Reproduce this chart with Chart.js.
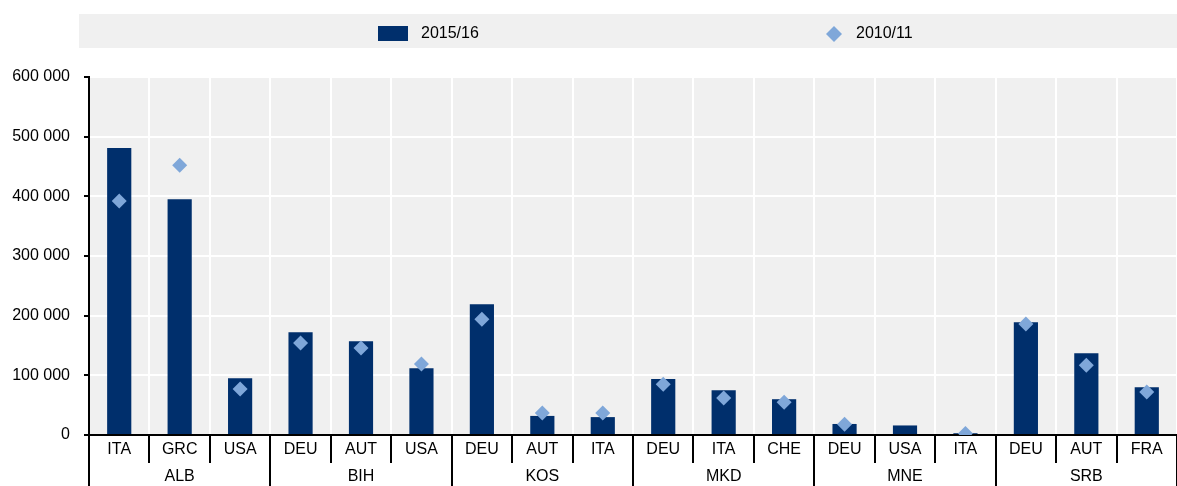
<!DOCTYPE html>
<html>
<head>
<meta charset="utf-8">
<script src="https://cdn.jsdelivr.net/npm/chart.js@4"></script>
<style>
  body { margin: 0; background: #fff; }
  #wrap { width: 1177px; height: 486px; }
</style>
</head>
<body>
<div id="wrap"><canvas id="migChart" width="1177" height="486"></canvas></div>
<script>
// destination countries, grouped by origin
const destinations = ["ITA", "GRC", "USA", "DEU", "AUT", "USA", "DEU", "AUT", "ITA",
                      "DEU", "ITA", "CHE", "DEU", "USA", "ITA", "DEU", "AUT", "FRA"];
const origins = ["ALB", "BIH", "KOS", "MKD", "MNE", "SRB"];
const perGroup = 3;

const values2015 = [481000, 395000, 95000, 172000, 157000, 112000, 219000, 32000, 30000,
                    94000, 75000, 60000, 18500, 16000, 3000, 189000, 137000, 80000];
const values2010 = [392000, 452000, 77000, 154000, 146000, 119000, 194000, 37000, 37000,
                    85000, 62000, 55000, 18000, null, 2500, 186000, 117000, 72000];

const yTicks = [0, 100000, 200000, 300000, 400000, 500000, 600000];

const navy = '#002f6c';
const lightBlue = '#7fa7d9';
const panelGrey = '#f0f0f0';
const fontFamily = '"Liberation Sans", Arial, sans-serif';
const fontSize = 16;

function fmt(v) {
    return String(v).replace(/\B(?=(\d{3})+(?!\d))/g, ' ');
}

const oecdLook = {
    id: 'oecdLook',
    beforeDraw(chart) {
        const ctx = chart.ctx;
        const a = chart.chartArea;
        ctx.save();
        // legend band
        ctx.fillStyle = panelGrey;
        ctx.fillRect(79, 14, chart.width - 79, 34);
        // plot background
        ctx.fillRect(a.left, a.top, a.right - a.left, a.bottom - a.top);
        ctx.restore();
    },
    afterDraw(chart) {
        const ctx = chart.ctx;
        const x = chart.scales.x;
        const a = chart.chartArea;
        const half = (x.getPixelForValue(1) - x.getPixelForValue(0)) / 2;
        ctx.save();

        // legend entries
        ctx.font = fontSize + 'px ' + fontFamily;
        ctx.textBaseline = 'middle';
        ctx.fillStyle = navy;
        ctx.fillRect(378, 26, 30, 15);
        ctx.fillStyle = '#000';
        ctx.fillText('2015/16', 421, 34);
        ctx.fillStyle = lightBlue;
        ctx.beginPath();
        ctx.moveTo(834, 26); ctx.lineTo(842, 34); ctx.lineTo(834, 42); ctx.lineTo(826, 34);
        ctx.closePath();
        ctx.fill();
        ctx.fillStyle = '#000';
        ctx.fillText('2010/11', 856, 34);

        // separators under the axis
        ctx.strokeStyle = '#000';
        ctx.lineWidth = 2;
        for (let i = 0; i <= destinations.length; i++) {
            const px = Math.round(x.getPixelForValue(i) - half);
            const groupEdge = i % perGroup === 0;
            ctx.beginPath();
            ctx.moveTo(px, a.bottom);
            ctx.lineTo(px, groupEdge ? chart.height : a.bottom + 28);
            ctx.stroke();
        }

        // origin labels
        ctx.fillStyle = '#000';
        ctx.textAlign = 'center';
        ctx.textBaseline = 'top';
        origins.forEach(function (o, g) {
            const mid = x.getPixelForValue(g * perGroup + 1);
            ctx.fillText(o, mid, 469);
        });
        ctx.restore();
    }
};

new Chart(document.getElementById('migChart'), {
    data: {
        labels: destinations,
        datasets: [
            {
                type: 'bar',
                label: '2015/16',
                data: values2015,
                backgroundColor: navy,
                barPercentage: 0.4,
                categoryPercentage: 1,
                order: 2
            },
            {
                type: 'line',
                label: '2010/11',
                data: values2010,
                showLine: false,
                pointStyle: 'rectRot',
                pointRadius: 7.5,
                pointHoverRadius: 7.5,
                pointBackgroundColor: lightBlue,
                pointBorderWidth: 0,
                order: 1
            }
        ]
    },
    options: {
        responsive: false,
        animation: false,
        layout: { autoPadding: false, padding: { top: 77, right: 0, bottom: 0, left: 0 } },
        scales: {
            x: {
                grid: { color: '#ffffff', lineWidth: 2, offset: true, drawTicks: false },
                border: { color: '#000', width: 2 },
                ticks: { color: '#000', padding: 5, font: { family: fontFamily, size: fontSize }, maxRotation: 0, autoSkip: false },
                afterFit(scale) {
                    scale.height = 51;
                    scale.paddingLeft = 0;
                    scale.paddingRight = 0;
                }
            },
            y: {
                min: 0,
                max: 600000,
                afterBuildTicks(scale) { scale.ticks = yTicks.map(v => ({ value: v })); },
                grid: { color: '#ffffff', lineWidth: 2, tickColor: '#000', tickLength: 5, tickWidth: 2 },
                border: { color: '#000', width: 2 },
                ticks: {
                    color: '#000',
                    padding: 14,
                    font: { family: fontFamily, size: fontSize },
                    callback: v => fmt(v)
                },
                afterFit(scale) { scale.width = 89; }
            }
        },
        plugins: {
            legend: { display: false },
            tooltip: { enabled: true }
        }
    },
    plugins: [oecdLook]
});
</script>
</body>
</html>
